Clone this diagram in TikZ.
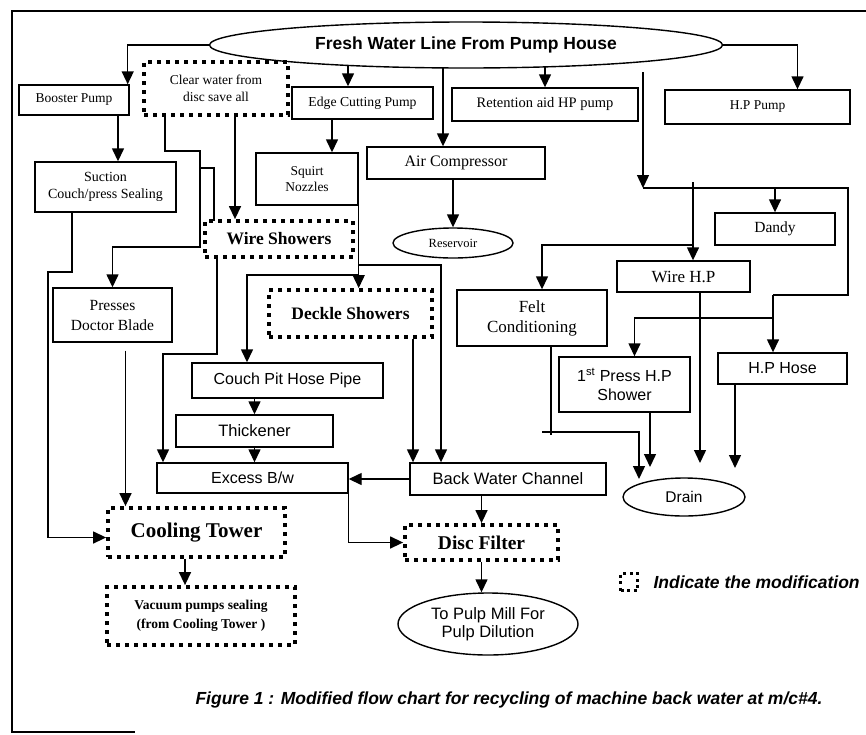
\documentclass[tikz,border=0pt]{standalone}
\usepackage{fontspec}
\setmainfont{Liberation Serif}
\setsansfont{Liberation Sans}
\usetikzlibrary{arrows.meta, calc, shapes.geometric, backgrounds}
\newcommand{\fsz}[2]{\fontsize{#1}{#2}\selectfont}
\tikzset{%
  blk/.style={draw, line width=1.4pt, fill=white, inner sep=0pt, align=center},
  modbox/.style={draw, line width=3.8pt, dash pattern=on 3.8pt off 5.2pt, fill=white, inner sep=0pt, align=center},
  oval/.style={draw, ellipse, line width=1.4pt, fill=white, inner sep=0pt, align=center},
  flow/.style={-{Triangle[length=13pt,width=12pt]}, line width=1.4pt},
}

\begin{document}
\begin{tikzpicture}[x=1pt, y=-1pt]
    \useasboundingbox (0,0) rectangle (866,734);

    %frame
    \draw[line width=1.4pt] (866,11) -- (12,11) -- (12,732) -- (135,732);

    %fresh water line and pumps
    \node[oval, minimum width=513pt, minimum height=46pt, font=\sffamily\bfseries\fsz{17.5}{20}] (fresh) at (466,45) {Fresh Water Line From Pump House};
    \node[blk, minimum width=110pt, minimum height=30pt, font=\fsz{13.5}{16}] (booster) at (74,100) {Booster Pump};
    \node[modbox, minimum width=144pt, minimum height=53pt, font=\fsz{13.5}{17}] (clear) at (216,88.5) {Clear water from\\disc save all};
    \node[blk, minimum width=141pt, minimum height=32pt, font=\fsz{13.7}{16}] (edge) at (362.5,103) {Edge Cutting Pump};
    \node[blk, minimum width=186pt, minimum height=33pt, font=\fsz{14.5}{16}] (retention) at (545,104.5) {Retention aid HP pump};
    \node[blk, minimum width=185pt, minimum height=34pt, font=\fsz{13.5}{16}] (hppump) at (757.5,107) {H.P Pump};
    \node[blk, minimum width=178pt, minimum height=32pt, font=\fsz{16}{18}] (aircomp) at (456,163) {Air Compressor};
    \node[oval, minimum width=120pt, minimum height=30pt, font=\fsz{12.5}{14}] (reservoir) at (453,243) {Reservoir};

    %right branch
    \node[blk, minimum width=120pt, minimum height=32pt, font=\fsz{15.5}{18}] (dandy) at (775,229) {Dandy};
    \node[blk, minimum width=133pt, minimum height=31pt, font=\fsz{17}{20}] (wirehp) at (683.5,276.5) {Wire H.P};
    \node[blk, minimum width=150pt, minimum height=56pt, font=\fsz{17}{20}] (felt) at (532,318) {Felt\\Conditioning};
    \node[blk, minimum width=131pt, minimum height=55pt, font=\sffamily\fsz{16}{18.5}] (press1) at (624.5,384.5) {1\textsuperscript{st} Press H.P\\Shower};
    \node[blk, minimum width=129pt, minimum height=31pt, font=\sffamily\fsz{16}{18}] (hphose) at (782.5,368.5) {H.P Hose};
    \node[oval, minimum width=122pt, minimum height=38pt, font=\sffamily\fsz{15.5}{18}] (drain) at (684,497) {Drain};

    %left branch
    \node[blk, minimum width=141pt, minimum height=50pt, font=\fsz{14}{16.7}] (suction) at (105.5,187) {Suction\\Couch/press Sealing};
    \node[blk, minimum width=102pt, minimum height=52pt, font=\fsz{13.5}{16}] (squirt) at (307,179) {Squirt\\Nozzles};
    \node[modbox, minimum width=148pt, minimum height=36pt, font=\bfseries\fsz{17.5}{20}] (wire) at (279,239) {Wire Showers};
    \node[blk, minimum width=119pt, minimum height=54pt, font=\fsz{15.5}{20}] (presses) at (112.5,315) {Presses\\Doctor Blade};
    \node[modbox, minimum width=163pt, minimum height=47pt, font=\bfseries\fsz{17.5}{20}] (deckle) at (350.5,313.5) {Deckle Showers};
    \node[blk, minimum width=191pt, minimum height=35pt, font=\sffamily\fsz{16}{18}] (couch) at (287.5,380.5) {Couch Pit Hose Pipe};
    \node[blk, minimum width=157pt, minimum height=32pt, font=\sffamily\fsz{16.5}{18}] (thick) at (254.5,431) {Thickener};
    \node[blk, minimum width=191pt, minimum height=30pt, font=\sffamily\fsz{16}{18}] (excess) at (252.5,478) {Excess B/w};
    \node[blk, minimum width=196pt, minimum height=32pt, font=\sffamily\fsz{16.5}{18}] (bwc) at (508,479) {Back Water Channel};
    \node[modbox, minimum width=177pt, minimum height=49pt, font=\bfseries\fsz{21}{24}] (cooling) at (196.5,532.5) {Cooling Tower};
    \node[modbox, minimum width=188pt, minimum height=58pt, font=\bfseries\fsz{13.5}{19}] (vacuum) at (201,616) {Vacuum pumps sealing\\(from Cooling Tower )};
    \node[modbox, minimum width=153pt, minimum height=35pt, font=\bfseries\fsz{19.5}{22}] (disc) at (481.5,542.5) {Disc Filter};
    \node[oval, minimum width=180pt, minimum height=62pt, font=\sffamily\fsz{16.5}{18}] (pulp) at (488,624) {To Pulp Mill For\\Pulp Dilution};

    %legend and caption
    \node[modbox, line width=3pt, dash pattern=on 3pt off 3.5pt, minimum size=17pt] (legicon) at (629,582) {};
    \node[anchor=west, font=\sffamily\bfseries\itshape\fsz{17.5}{20}] (legtext) at (650,582) {Indicate the modification};
    \node[anchor=west, font=\sffamily\bfseries\itshape\fsz{17.5}{20}] (caption) at (192,700) {Figure 1 : Modified flow chart for recycling of machine back water at m/c\#4.};

    %junction points
    \coordinate (fE) at (348,45);
    \coordinate (fA) at (443,45);
    \coordinate (fR) at (545,45);
    \coordinate (hpTop) at (643,72);
    \coordinate (hpJ) at (643,188);
    \coordinate (hpR) at (848,188);
    \coordinate (hpK) at (773,295);
    \coordinate (hpL) at (773,318);
    \coordinate (wTop) at (693,182);
    \coordinate (wF) at (693,245);
    \coordinate (fk) at (542,432);
    \coordinate (fd) at (551,435);
    \coordinate (dr0) at (639,479);
    \coordinate (dr2) at (650,467);
    \coordinate (dr3) at (700,463);
    \coordinate (dr4) at (735,468);
    \coordinate (sc1) at (48,272);
    \coordinate (cp1) at (200,151);
    \coordinate (cp2) at (200,247);
    \coordinate (cp3) at (200,168);
    \coordinate (cp4) at (214,221);
    \coordinate (sq1) at (358,265);
    \coordinate (sq2) at (358,275);

    \begin{scope}[on background layer]
    %from the fresh water line
    \draw[flow] (fresh.west) -| ([xshift=-2pt]booster.north east);
    \draw[flow] (fE) -- (fE |- edge.north);
    \draw[flow] (fA) -- (fA |- aircomp.north);
    \draw[flow] (fR) -- (fR |- retention.north);
    \draw[flow] (fresh.east) -| ([xshift=40pt]hppump.north);
    \draw[flow] (aircomp.south -| reservoir.north) -- (reservoir.north);

    %high pressure header
    \draw[flow] (hpTop) -- (hpJ);
    \draw[line width=1.4pt] (hpJ) -- (hpR) |- (hpK);
    \draw[flow] (hpK) -- (hpK |- hphose.north);
    \draw[flow] (hpL) -| ([xshift=10pt]press1.north);
    \draw[flow] (hpJ -| dandy.north) -- (dandy.north);
    \draw[flow] (wTop) -- (wTop |- wirehp.north);
    \draw[flow] (wF) -| ([xshift=10pt]felt.north);

    %to drain
    \draw[line width=1.4pt] ([xshift=19pt]felt.south) -- (fd);
    \draw[flow] (fk) -| (dr0);
    \draw[flow] ([xshift=25.5pt]press1.south) -- (dr2);
    \draw[flow] ([xshift=16.5pt]wirehp.south) -- (dr3);
    \draw[flow] ([xshift=-47.5pt]hphose.south) -- (dr4);

    %left side
    \draw[flow] ([xshift=44pt]booster.south) coordinate (bs) -- (bs |- suction.north);
    \draw[flow] ([xshift=-33.5pt]suction.south) |- (sc1) |- ([yshift=-5pt]cooling.west);
    \draw[flow] ([xshift=-51pt]clear.south) |- (cp1) -- (cp2) -| (presses.north);
    \draw[line width=1.4pt] (cp3) -| (cp4);
    \draw[flow] ([xshift=19pt]clear.south) coordinate (cw) -- (cw |- wire.north);
    \draw[flow] ([xshift=-30.5pt]edge.south) coordinate (es) -- (es |- squirt.north);
    \draw[flow] (squirt.south east) -- (squirt.south east |- deckle.north);
    \draw[flow] (sq1) -| ([xshift=-67pt]bwc.north);
    \draw[flow] (sq2) -| ([xshift=-40.5pt]couch.north);
    \draw[flow] ([xshift=62.5pt]deckle.south) coordinate (ds) -- (ds |- bwc.north);
    \draw[flow] ([xshift=-62pt]wire.south) -- ++(0,95) -| ([xshift=-89.5pt]excess.north);
    \draw[flow] (couch.south -| thick.north) -- (thick.north);
    \draw[flow] (thick.south) -- (thick.south |- excess.north);
    \draw[flow] (bwc.west) -- (bwc.west -| excess.east);
    \draw[flow] (excess.south east) |- (disc.west);
    \draw[flow] ([xshift=13pt,yshift=-8pt]presses.south) coordinate (pc) -- (pc |- cooling.north);
    \draw[flow] ([xshift=-11.5pt]cooling.south) coordinate (cv) -- (cv |- vacuum.north);
    \draw[flow] (bwc.south -| disc.north) -- (disc.north);
    \draw[flow] (disc.south) -- (disc.south |- pulp.north);
    \end{scope}
\end{tikzpicture}
\end{document}
